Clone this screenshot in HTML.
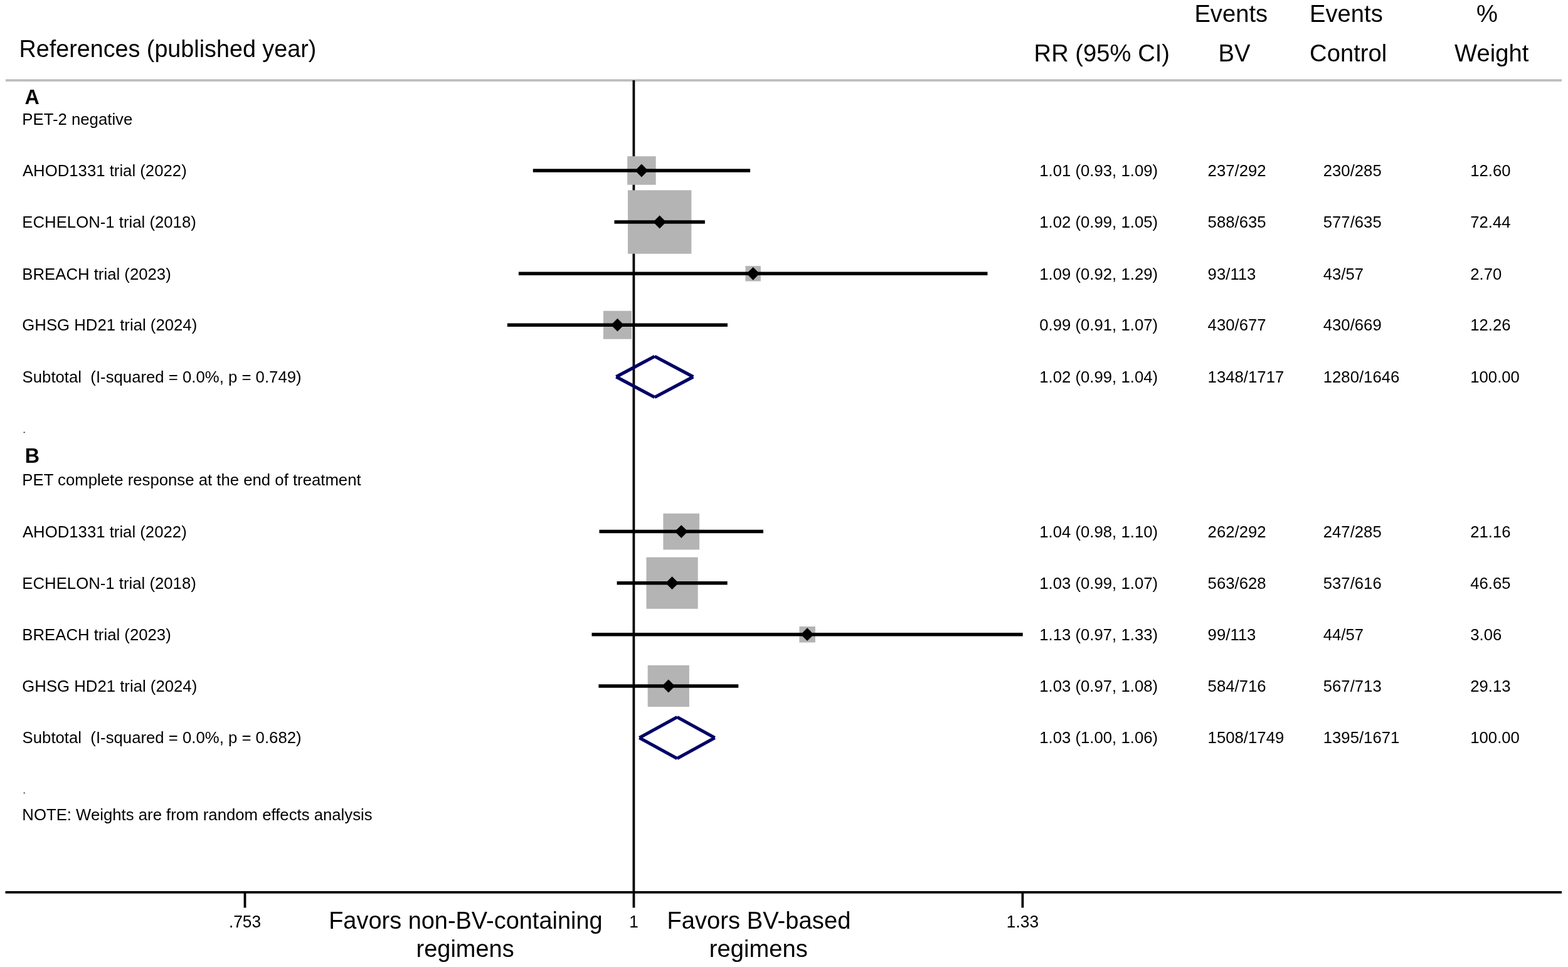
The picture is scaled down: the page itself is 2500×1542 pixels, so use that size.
<!DOCTYPE html>
<html><head><meta charset="utf-8"><title>Forest plot</title>
<style>
html,body{margin:0;padding:0;background:#fff;overflow:hidden;}
body{width:2500px;height:1542px;overflow:hidden;}
svg{display:block;}
text{font-family:"Liberation Sans", Arial, sans-serif;}
</style></head><body>
<svg width="2500" height="1542" viewBox="0 0 2500 1542">
<rect width="2500" height="1542" fill="#fff"/>
<g>
<line x1="9" y1="128.1" x2="2490" y2="128.1" stroke="#bebebe" stroke-width="3.6"/>
<line x1="1010.45" y1="127.9" x2="1010.45" y2="1423" stroke="#000" stroke-width="3.8"/>
<line x1="8.5" y1="1422.9" x2="2490" y2="1422.9" stroke="#000" stroke-width="3.8"/>
<line x1="390.5" y1="1422.9" x2="390.5" y2="1447.5" stroke="#000" stroke-width="3.8"/>
<line x1="1010.5" y1="1422.9" x2="1010.5" y2="1447.5" stroke="#000" stroke-width="3.8"/>
<line x1="1630.4" y1="1422.9" x2="1630.4" y2="1447.5" stroke="#000" stroke-width="3.8"/>
<rect x="1000.2" y="249.2" width="45.5" height="45.5" fill="#b4b4b4"/>
<rect x="1001.0" y="303.3" width="101.4" height="101.4" fill="#b4b4b4"/>
<rect x="1188.5" y="424.1" width="24.4" height="24.4" fill="#b4b4b4"/>
<rect x="962.0" y="495.7" width="45.0" height="45.0" fill="#b4b4b4"/>
<rect x="1057.4" y="818.8" width="57.7" height="57.7" fill="#b4b4b4"/>
<rect x="1030.5" y="888.6" width="82.2" height="82.2" fill="#b4b4b4"/>
<rect x="1274.4" y="999.0" width="25.5" height="25.5" fill="#b4b4b4"/>
<rect x="1032.7" y="1060.9" width="66.2" height="66.2" fill="#b4b4b4"/>
<line x1="849.8" y1="272.0" x2="1196.1" y2="272.0" stroke="#000" stroke-width="5.5"/>
<line x1="979.5" y1="354.0" x2="1123.9" y2="354.0" stroke="#000" stroke-width="5.5"/>
<line x1="826.9" y1="436.3" x2="1574.5" y2="436.3" stroke="#000" stroke-width="5.5"/>
<line x1="808.9" y1="518.2" x2="1160.0" y2="518.2" stroke="#000" stroke-width="5.5"/>
<line x1="955.5" y1="847.6" x2="1217.0" y2="847.6" stroke="#000" stroke-width="5.5"/>
<line x1="983.6" y1="929.7" x2="1159.7" y2="929.7" stroke="#000" stroke-width="5.5"/>
<line x1="943.5" y1="1011.7" x2="1630.7" y2="1011.7" stroke="#000" stroke-width="5.5"/>
<line x1="954.4" y1="1094.0" x2="1177.3" y2="1094.0" stroke="#000" stroke-width="5.5"/>
<polygon points="1022.9,261.6 1033.3,272.0 1022.9,282.4 1012.5,272.0" fill="#000"/>
<polygon points="1051.7,343.6 1062.1,354.0 1051.7,364.4 1041.3,354.0" fill="#000"/>
<polygon points="1200.7,425.9 1211.1,436.3 1200.7,446.7 1190.3,436.3" fill="#000"/>
<polygon points="984.5,507.8 994.9,518.2 984.5,528.6 974.1,518.2" fill="#000"/>
<polygon points="1086.3,837.2 1096.7,847.6 1086.3,858.0 1075.9,847.6" fill="#000"/>
<polygon points="1071.6,919.3 1082.0,929.7 1071.6,940.1 1061.2,929.7" fill="#000"/>
<polygon points="1287.1,1001.3 1297.5,1011.7 1287.1,1022.1 1276.7,1011.7" fill="#000"/>
<polygon points="1065.8,1083.6 1076.2,1094.0 1065.8,1104.4 1055.4,1094.0" fill="#000"/>
<path d="M982.4,600.9L1043.8,568.2M1043.8,568.2L1105.3,600.9M1105.3,600.9L1043.8,633.5M1043.8,633.5L982.4,600.9" fill="none" stroke="#000066" stroke-width="5.2" stroke-linecap="butt"/>
<path d="M1019.4,1176.5L1079.6,1143.5M1079.6,1143.5L1139.7,1176.5M1139.7,1176.5L1079.6,1209.5M1079.6,1209.5L1019.4,1176.5" fill="none" stroke="#000066" stroke-width="5.2" stroke-linecap="butt"/>
<ellipse cx="38.7" cy="689.4" rx="1.35" ry="1.0" fill="#444"/>
<ellipse cx="38.7" cy="1264.5" rx="1.35" ry="1.0" fill="#444"/>
<text transform="translate(30.50,91.00) scale(1,1.025)" font-size="37.72" fill="#000" xml:space="preserve">References (published year)</text>
<text transform="translate(1648.60,97.50) scale(1,1.025)" font-size="38.2" fill="#000" xml:space="preserve">RR (95% CI)</text>
<text transform="translate(1904.40,35.40) scale(1,1.025)" font-size="38.2" fill="#000" xml:space="preserve">Events</text>
<text transform="translate(1942.50,97.50) scale(1,1.025)" font-size="38.2" fill="#000" xml:space="preserve">BV</text>
<text transform="translate(2088.00,35.40) scale(1,1.025)" font-size="38.2" fill="#000" xml:space="preserve">Events</text>
<text transform="translate(2088.10,97.50) scale(1,1.025)" font-size="38.2" fill="#000" xml:space="preserve">Control</text>
<text transform="translate(2354.00,35.40) scale(1,1.025)" font-size="38.2" fill="#000" xml:space="preserve">%</text>
<text transform="translate(2319.10,97.50) scale(1,1.025)" font-size="38.2" fill="#000" xml:space="preserve">Weight</text>
<text transform="translate(39.60,165.70) scale(1,1.025)" font-size="32.3" font-weight="bold" fill="#000" xml:space="preserve">A</text>
<text transform="translate(35.30,198.82) scale(1,1.025)" font-size="25.75" fill="#000" xml:space="preserve">PET-2 negative</text>
<text transform="translate(39.70,737.80) scale(1,1.025)" font-size="32.3" font-weight="bold" fill="#000" xml:space="preserve">B</text>
<text transform="translate(35.30,774.12) scale(1,1.025)" font-size="25.75" fill="#000" xml:space="preserve">PET complete response at the end of treatment</text>
<text transform="translate(35.90,281.22) scale(1,1.025)" font-size="25.75" fill="#000" xml:space="preserve">AHOD1331 trial (2022)</text>
<text transform="translate(1657.20,281.22) scale(1,1.025)" font-size="25.75" fill="#000" xml:space="preserve">1.01 (0.93, 1.09)</text>
<text transform="translate(1925.60,281.22) scale(1,1.025)" font-size="25.75" fill="#000" xml:space="preserve">237/292</text>
<text transform="translate(2109.70,281.22) scale(1,1.025)" font-size="25.75" fill="#000" xml:space="preserve">230/285</text>
<text transform="translate(2344.20,281.22) scale(1,1.025)" font-size="25.75" fill="#000" xml:space="preserve">12.60</text>
<text transform="translate(35.30,363.22) scale(1,1.025)" font-size="25.75" fill="#000" xml:space="preserve">ECHELON-1 trial (2018)</text>
<text transform="translate(1657.20,363.22) scale(1,1.025)" font-size="25.75" fill="#000" xml:space="preserve">1.02 (0.99, 1.05)</text>
<text transform="translate(1925.60,363.22) scale(1,1.025)" font-size="25.75" fill="#000" xml:space="preserve">588/635</text>
<text transform="translate(2109.70,363.22) scale(1,1.025)" font-size="25.75" fill="#000" xml:space="preserve">577/635</text>
<text transform="translate(2344.20,363.22) scale(1,1.025)" font-size="25.75" fill="#000" xml:space="preserve">72.44</text>
<text transform="translate(35.30,445.52) scale(1,1.025)" font-size="25.75" fill="#000" xml:space="preserve">BREACH trial (2023)</text>
<text transform="translate(1657.20,445.52) scale(1,1.025)" font-size="25.75" fill="#000" xml:space="preserve">1.09 (0.92, 1.29)</text>
<text transform="translate(1925.60,445.52) scale(1,1.025)" font-size="25.75" fill="#000" xml:space="preserve">93/113</text>
<text transform="translate(2109.70,445.52) scale(1,1.025)" font-size="25.75" fill="#000" xml:space="preserve">43/57</text>
<text transform="translate(2344.20,445.52) scale(1,1.025)" font-size="25.75" fill="#000" xml:space="preserve">2.70</text>
<text transform="translate(35.30,527.42) scale(1,1.025)" font-size="25.75" fill="#000" xml:space="preserve">GHSG HD21 trial (2024)</text>
<text transform="translate(1657.20,527.42) scale(1,1.025)" font-size="25.75" fill="#000" xml:space="preserve">0.99 (0.91, 1.07)</text>
<text transform="translate(1925.60,527.42) scale(1,1.025)" font-size="25.75" fill="#000" xml:space="preserve">430/677</text>
<text transform="translate(2109.70,527.42) scale(1,1.025)" font-size="25.75" fill="#000" xml:space="preserve">430/669</text>
<text transform="translate(2344.20,527.42) scale(1,1.025)" font-size="25.75" fill="#000" xml:space="preserve">12.26</text>
<text transform="translate(35.90,856.82) scale(1,1.025)" font-size="25.75" fill="#000" xml:space="preserve">AHOD1331 trial (2022)</text>
<text transform="translate(1657.20,856.82) scale(1,1.025)" font-size="25.75" fill="#000" xml:space="preserve">1.04 (0.98, 1.10)</text>
<text transform="translate(1925.60,856.82) scale(1,1.025)" font-size="25.75" fill="#000" xml:space="preserve">262/292</text>
<text transform="translate(2109.70,856.82) scale(1,1.025)" font-size="25.75" fill="#000" xml:space="preserve">247/285</text>
<text transform="translate(2344.20,856.82) scale(1,1.025)" font-size="25.75" fill="#000" xml:space="preserve">21.16</text>
<text transform="translate(35.30,938.92) scale(1,1.025)" font-size="25.75" fill="#000" xml:space="preserve">ECHELON-1 trial (2018)</text>
<text transform="translate(1657.20,938.92) scale(1,1.025)" font-size="25.75" fill="#000" xml:space="preserve">1.03 (0.99, 1.07)</text>
<text transform="translate(1925.60,938.92) scale(1,1.025)" font-size="25.75" fill="#000" xml:space="preserve">563/628</text>
<text transform="translate(2109.70,938.92) scale(1,1.025)" font-size="25.75" fill="#000" xml:space="preserve">537/616</text>
<text transform="translate(2344.20,938.92) scale(1,1.025)" font-size="25.75" fill="#000" xml:space="preserve">46.65</text>
<text transform="translate(35.30,1020.92) scale(1,1.025)" font-size="25.75" fill="#000" xml:space="preserve">BREACH trial (2023)</text>
<text transform="translate(1657.20,1020.92) scale(1,1.025)" font-size="25.75" fill="#000" xml:space="preserve">1.13 (0.97, 1.33)</text>
<text transform="translate(1925.60,1020.92) scale(1,1.025)" font-size="25.75" fill="#000" xml:space="preserve">99/113</text>
<text transform="translate(2109.70,1020.92) scale(1,1.025)" font-size="25.75" fill="#000" xml:space="preserve">44/57</text>
<text transform="translate(2344.20,1020.92) scale(1,1.025)" font-size="25.75" fill="#000" xml:space="preserve">3.06</text>
<text transform="translate(35.30,1103.22) scale(1,1.025)" font-size="25.75" fill="#000" xml:space="preserve">GHSG HD21 trial (2024)</text>
<text transform="translate(1657.20,1103.22) scale(1,1.025)" font-size="25.75" fill="#000" xml:space="preserve">1.03 (0.97, 1.08)</text>
<text transform="translate(1925.60,1103.22) scale(1,1.025)" font-size="25.75" fill="#000" xml:space="preserve">584/716</text>
<text transform="translate(2109.70,1103.22) scale(1,1.025)" font-size="25.75" fill="#000" xml:space="preserve">567/713</text>
<text transform="translate(2344.20,1103.22) scale(1,1.025)" font-size="25.75" fill="#000" xml:space="preserve">29.13</text>
<text transform="translate(35.60,609.62) scale(1,1.025)" font-size="25.75" fill="#000" xml:space="preserve">Subtotal  (I-squared = 0.0%, p = 0.749)</text>
<text transform="translate(1657.20,609.62) scale(1,1.025)" font-size="25.75" fill="#000" xml:space="preserve">1.02 (0.99, 1.04)</text>
<text transform="translate(1925.60,609.62) scale(1,1.025)" font-size="25.75" fill="#000" xml:space="preserve">1348/1717</text>
<text transform="translate(2109.70,609.62) scale(1,1.025)" font-size="25.75" fill="#000" xml:space="preserve">1280/1646</text>
<text transform="translate(2344.20,609.62) scale(1,1.025)" font-size="25.75" fill="#000" xml:space="preserve">100.00</text>
<text transform="translate(35.60,1185.32) scale(1,1.025)" font-size="25.75" fill="#000" xml:space="preserve">Subtotal  (I-squared = 0.0%, p = 0.682)</text>
<text transform="translate(1657.20,1185.32) scale(1,1.025)" font-size="25.75" fill="#000" xml:space="preserve">1.03 (1.00, 1.06)</text>
<text transform="translate(1925.60,1185.32) scale(1,1.025)" font-size="25.75" fill="#000" xml:space="preserve">1508/1749</text>
<text transform="translate(2109.70,1185.32) scale(1,1.025)" font-size="25.75" fill="#000" xml:space="preserve">1395/1671</text>
<text transform="translate(2344.20,1185.32) scale(1,1.025)" font-size="25.75" fill="#000" xml:space="preserve">100.00</text>
<text transform="translate(35.30,1307.90) scale(1,1.025)" font-size="25.75" fill="#000" xml:space="preserve">NOTE: Weights are from random effects analysis</text>
<text transform="translate(390.48,1478.80) scale(1,1.025)" font-size="26.3" text-anchor="middle" fill="#000" xml:space="preserve">.753</text>
<text transform="translate(1010.45,1478.80) scale(1,1.025)" font-size="26.3" text-anchor="middle" fill="#000" xml:space="preserve">1</text>
<text transform="translate(1630.42,1478.80) scale(1,1.025)" font-size="26.3" text-anchor="middle" fill="#000" xml:space="preserve">1.33</text>
<text transform="translate(742.40,1480.90) scale(1,1.025)" font-size="37.95" text-anchor="middle" fill="#000" xml:space="preserve">Favors non-BV-containing</text>
<text transform="translate(741.60,1525.60) scale(1,1.025)" font-size="37.95" text-anchor="middle" fill="#000" xml:space="preserve">regimens</text>
<text transform="translate(1209.90,1480.90) scale(1,1.025)" font-size="38.2" text-anchor="middle" fill="#000" xml:space="preserve">Favors BV-based</text>
<text transform="translate(1209.30,1525.60) scale(1,1.025)" font-size="38.2" text-anchor="middle" fill="#000" xml:space="preserve">regimens</text>
</g>
</svg>
</body></html>
